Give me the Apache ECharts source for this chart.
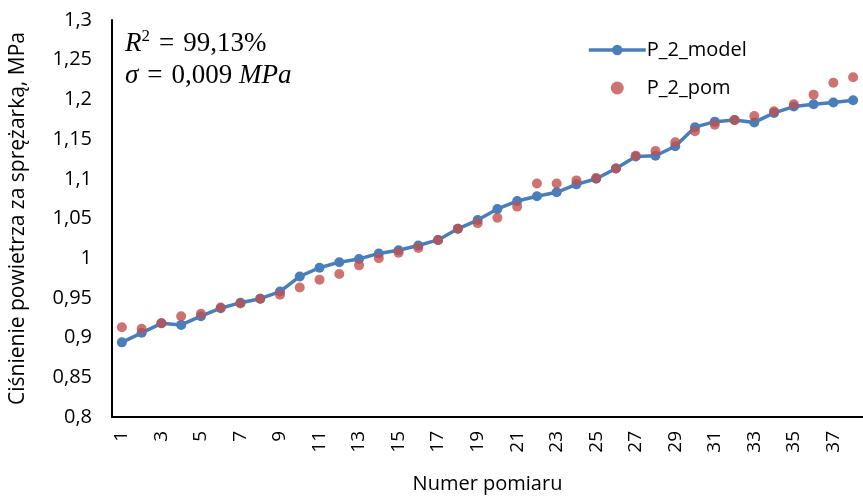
<!DOCTYPE html>
<html><head><meta charset="utf-8">
<script src="https://cdn.jsdelivr.net/npm/echarts@6/dist/echarts.min.js"></script>
<style>html,body{margin:0;padding:0;background:#fff}#c{width:863px;height:499px}</style>
</head><body><div id="c"></div>
<script>
const categories = Array.from({length:38},(_, i)=>String(i+1));
const modelValues = [0.894,0.906,0.918,0.916,0.927,0.937,0.944,0.949,0.958,0.977,0.988,0.995,0.999,1.006,1.010,1.016,1.023,1.037,1.048,1.062,1.072,1.078,1.083,1.093,1.100,1.113,1.128,1.129,1.141,1.165,1.172,1.174,1.171,1.183,1.191,1.194,1.196,1.199];
const pomValues = [0.913,0.911,0.918,0.927,0.930,0.938,0.943,0.949,0.954,0.963,0.973,0.980,0.991,1.000,1.007,1.013,1.023,1.037,1.044,1.051,1.065,1.094,1.094,1.098,1.101,1.113,1.129,1.135,1.146,1.160,1.168,1.174,1.179,1.185,1.194,1.206,1.221,1.228];
const seriesNames = ['P_2_model','P_2_pom'];
const font = '"Open Sans", "Liberation Sans", sans-serif';
const serif = '"Liberation Serif", "DejaVu Serif", serif';
const chart = echarts.init(document.getElementById('c'));
chart.setOption({
  animation:false,
  grid:{left:103,right:-7,top:20,bottom:69,containLabel:false},
  legend:{
    orient:'vertical', left:582, top:35, itemGap:18, itemWidth:57, itemHeight:13,
    textStyle:{fontFamily:font,fontSize:20,color:'#000',padding:[0,0,0,-4]},
    data:[{name:seriesNames[0],lineStyle:{width:3.5}},{name:seriesNames[1],icon:'circle'}]
  },
  xAxis:{
    type:'category', data:categories, boundaryGap:true,
    axisLine:{lineStyle:{color:'#000',width:2}}, axisTick:{show:false},
    axisLabel:{interval:1, rotate:90, fontFamily:font, fontSize:19, color:'#000', margin:14},
    name:'Numer pomiaru', nameLocation:'middle', nameGap:57,
    nameTextStyle:{fontFamily:font,fontSize:20,color:'#000'}
  },
  yAxis:{
    type:'value', min:0.8, max:1.3, interval:0.05,
    splitLine:{show:false},
    axisLine:{show:true,lineStyle:{color:'#000',width:2}}, axisTick:{show:false},
    axisLabel:{fontFamily:font,fontSize:20,color:'#000',margin:20,
      formatter:v=>String(parseFloat(v.toFixed(2))).replace('.',',')},
    name:'Ciśnienie powietrza za sprężarką, MPa', nameLocation:'middle', nameGap:83,
    nameTextStyle:{fontFamily:font,fontSize:21,color:'#000'}
  },
  graphic:[{
    type:'text', left:125, top:28,
    style:{
      text:'{i|R}{s|2}{e|=}{n|99,13%}\n{i|σ}{e|=}{n|0,009 }{i|MPa}',
      font:'27px ' + serif, fill:'#000', lineHeight:32,
      rich:{
        n:{fontFamily:serif,fontSize:27,fill:'#000',lineHeight:32},
        e:{fontFamily:serif,fontSize:27,fill:'#000',lineHeight:32,padding:[0,9,0,9]},
        i:{fontFamily:serif,fontStyle:'italic',fontSize:27,fill:'#000',lineHeight:32},
        s:{fontFamily:serif,fontSize:17,verticalAlign:'top',fill:'#000',lineHeight:20}
      }
    }
  }],
  series:[
    {name:seriesNames[0], type:'line', data:modelValues, symbol:'circle', symbolSize:10,
     lineStyle:{color:'#4a7ebb',width:3.5}, itemStyle:{color:'#4a7ebb'}, z:2},
    {name:seriesNames[1], type:'scatter', data:pomValues, symbol:'circle', symbolSize:10,
     itemStyle:{color:'#c0504d'}, z:3}
  ]
});
</script></body></html>
